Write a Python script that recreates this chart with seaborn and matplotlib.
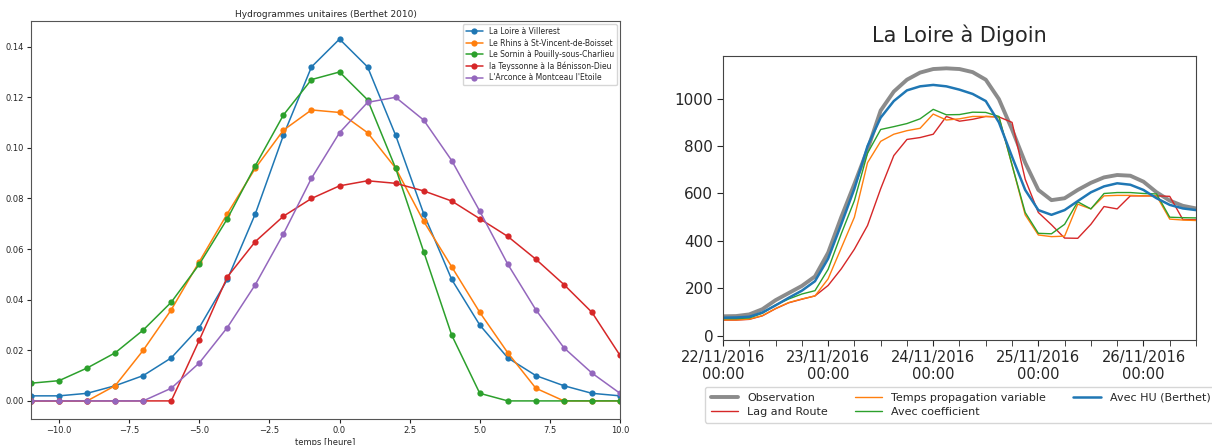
import pandas as pd
import numpy as np
import matplotlib
matplotlib.use("Agg")
import matplotlib.pyplot as plt
import matplotlib.dates as mdates
import seaborn as sns

sns.set_style("ticks")
plt.rcParams["font.family"] = ["DejaVu Sans"]

# --- panneau gauche : hydrogrammes unitaires ---
heures = list(range(-11, 11))
stations = [
    "La Loire à Villerest",
    "Le Rhins à St-Vincent-de-Boisset",
    "Le Sornin à Pouilly-sous-Charlieu",
    "la Teyssonne à la Bénisson-Dieu",
    "L'Arconce à Montceau l'Etoile",
]
hu_villerest = [0.002, 0.002, 0.003, 0.006, 0.010, 0.017, 0.029, 0.048, 0.074, 0.105, 0.132,
                0.143, 0.132, 0.105, 0.074, 0.048, 0.030, 0.017, 0.010, 0.006, 0.003, 0.002]
hu_rhins = [0.0, 0.0, 0.0, 0.006, 0.020, 0.036, 0.055, 0.074, 0.092, 0.107, 0.115,
            0.114, 0.106, 0.092, 0.071, 0.053, 0.035, 0.019, 0.005, 0.0, 0.0, 0.0]
hu_sornin = [0.007, 0.008, 0.013, 0.019, 0.028, 0.039, 0.054, 0.072, 0.093, 0.113, 0.127,
             0.130, 0.119, 0.092, 0.059, 0.026, 0.003, 0.0, 0.0, 0.0, 0.0, 0.0]
hu_teyssonne = [0.0, 0.0, 0.0, 0.0, 0.0, 0.0, 0.024, 0.049, 0.063, 0.073, 0.080,
                0.085, 0.087, 0.086, 0.083, 0.079, 0.072, 0.065, 0.056, 0.046, 0.035, 0.018]
hu_arconce = [0.0, 0.0, 0.0, 0.0, 0.0, 0.005, 0.015, 0.029, 0.046, 0.066, 0.088,
              0.106, 0.118, 0.120, 0.111, 0.095, 0.075, 0.054, 0.036, 0.021, 0.011, 0.003]

# --- panneau droit : débits à Digoin (pas de 3 h) ---
debut = "2016-11-22 00:00"
pas_h = 3
q_obs = [82, 83, 90, 112, 150, 180, 210, 250, 350, 500, 640, 785, 950, 1030, 1080, 1110, 1125,
         1128, 1125, 1112, 1080, 998, 870, 730, 615, 572, 580, 615, 645, 668, 678, 675, 650,
         605, 570, 548, 537]
q_lag = [66, 66, 69, 84, 114, 139, 154, 168, 212, 282, 365, 465, 620, 760, 828, 836, 850,
         925, 905, 913, 925, 923, 900, 660, 520, 468, 412, 411, 470, 545, 535, 590, 590,
         590, 588, 490, 489]
q_tpv = [67, 67, 70, 85, 115, 140, 155, 168, 240, 370, 500, 730, 820, 850, 865, 875, 935,
         910, 915, 925, 925, 923, 720, 510, 425, 418, 420, 555, 535, 590, 592, 592, 590,
         590, 492, 488, 486]
q_coef = [72, 72, 75, 95, 130, 155, 176, 190, 280, 430, 570, 770, 870, 882, 895, 915, 955,
          932, 933, 943, 942, 925, 720, 520, 432, 430, 470, 565, 535, 600, 604, 604, 600,
          598, 500, 498, 497]
q_hu = [76, 77, 80, 98, 128, 160, 190, 230, 325, 470, 620, 800, 920, 990, 1035, 1052, 1058,
        1052, 1038, 1020, 990, 900, 755, 615, 530, 510, 530, 568, 605, 630, 643, 637, 615,
        580, 552, 537, 530]

W, H = 1212, 445
fig = plt.figure(figsize=(W / 100, H / 100), dpi=100)

# panneau gauche
ax1 = fig.add_axes([31 / W, 1 - 419 / H, (620 - 31) / W, (419 - 21) / H])
df_hu = pd.DataFrame({
    "temps": heures * 5,
    "valeur": hu_villerest + hu_rhins + hu_sornin + hu_teyssonne + hu_arconce,
    "station": sum([[s] * len(heures) for s in stations], []),
})
sns.lineplot(data=df_hu, x="temps", y="valeur", hue="station", hue_order=stations,
             palette="tab10", marker="o", markersize=4.5, markeredgewidth=0,
             linewidth=1.1, ax=ax1)
ax1.set_xlim(-11, 10)
ax1.set_title("Hydrogrammes unitaires (Berthet 2010)", fontsize=6.5, pad=3)
ax1.set_xlabel("temps [heure]", fontsize=6, labelpad=2)
ax1.set_ylabel("")
ax1.tick_params(labelsize=6, length=3, pad=2)
ax1.yaxis.set_major_formatter(matplotlib.ticker.FormatStrFormatter("%.2f"))
ax1.legend(loc="upper right", fontsize=5.5, frameon=True, handlelength=2.2,
           borderpad=0.4, labelspacing=0.32, borderaxespad=0.4)
for s in ax1.spines.values():
    s.set_visible(True)
    s.set_color("#555555")

# panneau droit
ax2 = fig.add_axes([723 / W, 1 - 340 / H, (1196 - 723) / W, (340 - 56) / H])
dates = pd.date_range(debut, periods=len(q_obs), freq=f"{pas_h}h")
series = [
    ("Observation", q_obs, "#7f7f7f", 2.8),
    ("Lag and Route", q_lag, "#d62728", 1.0),
    ("Temps propagation variable", q_tpv, "#ff7f0e", 1.0),
    ("Avec coefficient", q_coef, "#2ca02c", 1.0),
    ("Avec HU (Berthet)", q_hu, "#1f77b4", 1.8),
]
for nom, q, couleur, lw in series:
    sns.lineplot(x=dates, y=q, color=couleur, linewidth=lw, label=nom, ax=ax2,
                 alpha=0.9 if nom == "Observation" else 1.0)
ax2.set_xlim(pd.Timestamp("2016-11-22 00:00"), pd.Timestamp("2016-11-26 12:00"))
ax2.set_ylim(-18, 1180)
ax2.set_yticks([0, 200, 400, 600, 800, 1000])
ax2.xaxis.set_major_locator(mdates.DayLocator())
ax2.xaxis.set_major_formatter(mdates.DateFormatter("%d/%m/%Y\n%H:%M"))
ax2.xaxis.set_minor_locator(mdates.HourLocator(byhour=[6, 12, 18]))
ax2.tick_params(axis="y", labelsize=11, length=4, pad=3)
ax2.tick_params(axis="x", labelsize=10.5, length=4, pad=3)
ax2.tick_params(which="minor", length=4)
ax2.set_title("La Loire à Digoin", fontsize=15, pad=10)
ax2.set_xlabel("")
ax2.set_ylabel("")
for s in ax2.spines.values():
    s.set_visible(True)
    s.set_color("#444444")
ax2.legend(loc="upper left", bbox_to_anchor=(705 / W, 1 - 387 / H),
           bbox_transform=fig.transFigure, ncol=3, fontsize=8.0, frameon=True,
           handlelength=2.5, handletextpad=0.8, columnspacing=2.4,
           labelspacing=0.4, borderaxespad=0, borderpad=0.5)

fig.savefig("out.png", dpi=100)
